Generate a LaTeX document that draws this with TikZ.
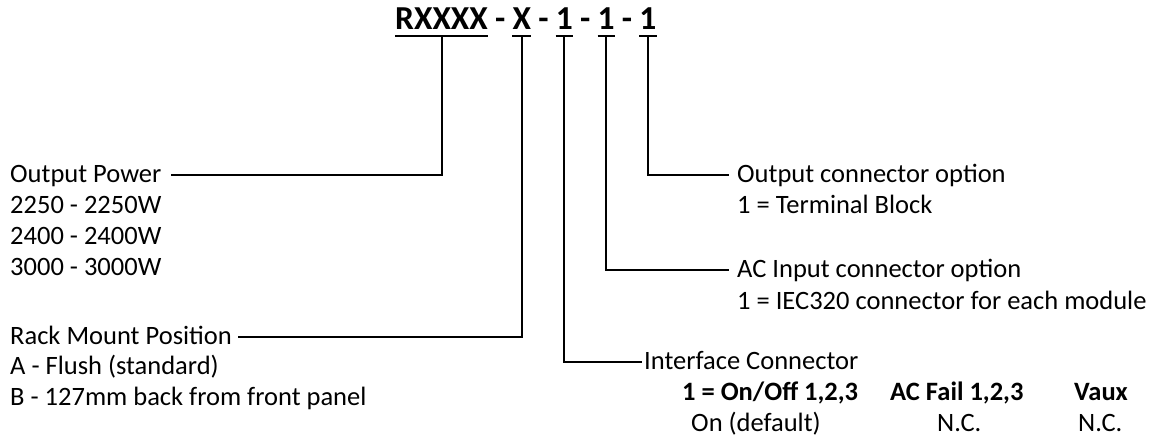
\documentclass[tikz,border=0pt]{standalone}
\usepackage{fontspec}
\setmainfont{Carlito}
\begin{document}
\begin{tikzpicture}[x=1pt,y=-1pt,
  txt/.style={font=\fontsize{26.5}{31}\selectfont, inner sep=0pt, anchor=base west},
  bold/.style={txt, font=\fontsize{26.5}{31}\selectfont\bfseries},
  head/.style={txt, anchor=west, text height=15pt, text depth=0pt},
  tok/.style={txt, font=\fontsize{33.5}{40}\selectfont\bfseries},
  conn/.style={line width=2pt},
  ul/.style={line width=2.6pt}]
\useasboundingbox (0,0) rectangle (1160,442);

% part number
\node[tok] (t1) at (395,29) {RXXXX};
\node[tok] (d1) at (t1.base east) {\makebox[24pt]{-}};
\node[tok] (t2) at (d1.base east) {X};
\node[tok] (d2) at (t2.base east) {\makebox[24pt]{-}};
\node[tok] (t3) at (d2.base east) {1};
\node[tok] (d3) at (t3.base east) {\makebox[24pt]{-}};
\node[tok] (t4) at (d3.base east) {1};
\node[tok] (d4) at (t4.base east) {\makebox[24pt]{-}};
\node[tok] (t5) at (d4.base east) {1};

\foreach \t in {t1,t2,t3,t4,t5}{
  \draw[ul] ([yshift=-7pt]\t.base west) -- ([yshift=-7pt]\t.base east);
  \coordinate (u\t) at ([yshift=-7pt]\t.base);
}

% left labels
\node[head] (opw) at (10,174.5) {Output Power};
\node[txt] (opw1) at (10,213) {2250 - 2250W};
\node[txt] (opw2) at (10,244) {2400 - 2400W};
\node[txt] (opw3) at (10,275) {3000 - 3000W};

\node[head] (rmp) at (10,336.5) {Rack Mount Position};
\node[txt] (rmp1) at (10,374) {A - Flush (standard)};
\node[txt] (rmp2) at (10,405) {B - 127mm back from front panel};

% right labels
\node[head] (occ) at (737,174.5) {Output connector option};
\node[txt] (occ1) at (737,213) {1 = Terminal Block};

\node[head] (aci) at (737,270) {AC Input connector option};
\node[txt] (aci1) at (737,309) {1 = IEC320 connector for each module};

\node[head] (ifc) at (644,362) {Interface Connector};
\node[bold] (ifa) at (682,400) {1 = On/Off 1,2,3};
\node[bold] (ifb) at (890,400) {AC Fail 1,2,3};
\node[bold] (ifv) at (1074,400) {Vaux};
\node[txt] (ifa1) at (691,431) {On (default)};
\node[txt] (ifb1) at (937,431) {N.C.};
\node[txt] (ifv1) at (1078,431) {N.C.};

% connectors
\draw[conn] (ut1) |- ([xshift=9pt]opw.east);
\draw[conn] (ut2) |- ([xshift=6pt]rmp.east);
\draw[conn] (ut3) |- ([xshift=-2pt]ifc.west);
\draw[conn] (ut4) |- ([xshift=-8pt]aci.west);
\draw[conn] (ut5) |- ([xshift=-8pt]occ.west);
\end{tikzpicture}
\end{document}
